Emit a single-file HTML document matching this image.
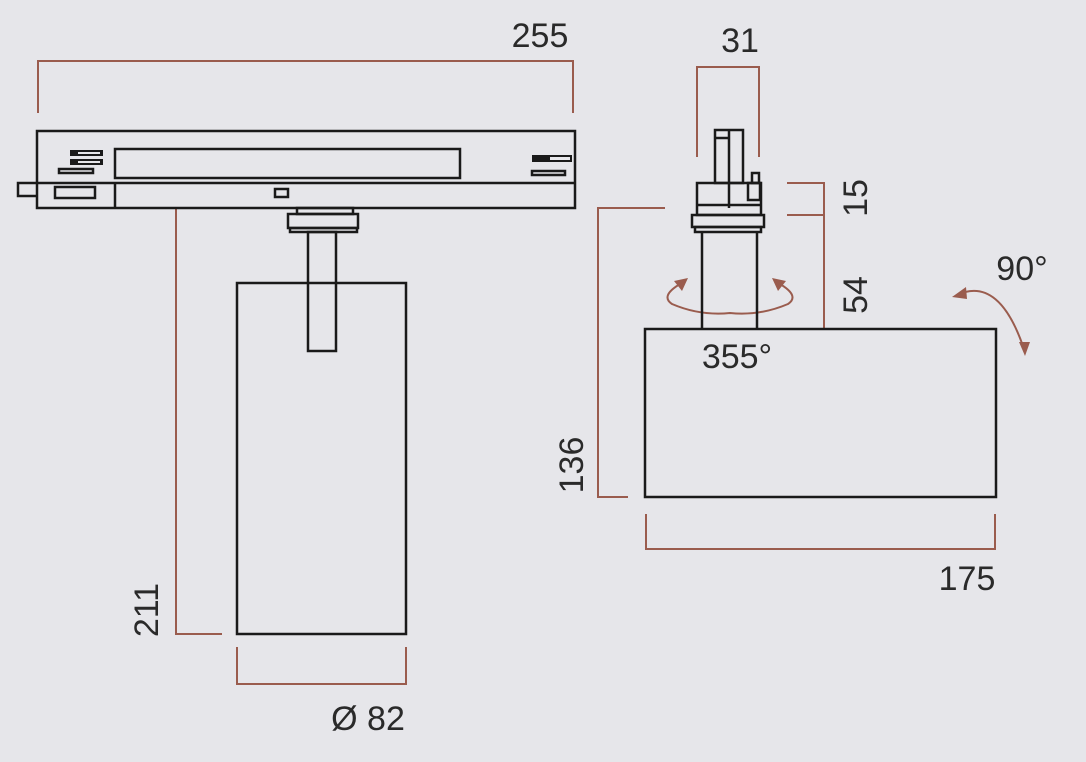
<!DOCTYPE html>
<html><head><style>body{margin:0;background:#e6e6ea}svg{display:block}text{font-family:"Liberation Sans",sans-serif;fill:#2a2a2a;font-size:34px}</style></head>
<body>
<svg width="1086" height="762" viewBox="0 0 1086 762">
<rect width="1086" height="762" fill="#e6e6ea"/>
<g fill="none" stroke="#9a5c4e" stroke-width="2">
<path d="M38 113V61H573V113"/>
<path d="M176 208V634H222"/>
<path d="M237 647V684H406V647"/>
<path d="M697 157V67H759V157"/>
<path d="M787 183H824V329M787 215H824"/>
<path d="M665 208H598V497H628"/>
<path d="M646 514V549H995V514"/>
<path d="M957 295Q1000 275 1025 352"/>
<path d="M680 284Q660 296 672 304Q700 316 730 313Q760 316 788 304Q800 296 780 284"/>
</g>
<g fill="#9a5c4e">
<path d="M952 297L966 287L967 299Z"/>
<path d="M1025 356L1019 342L1030 342Z"/>
<path d="M688 278L674 281L682 291Z"/>
<path d="M772 278L786 281L778 291Z"/>
</g>
<g fill="none" stroke="#1a1a1a" stroke-width="2.5">
<rect x="37" y="131" width="538" height="77"/>
<path d="M37 183H575M115 183V208"/>
<rect x="115" y="149" width="345" height="29"/>
<rect x="275" y="189" width="13" height="8"/>
<path d="M37 183H18V196H37"/>
<rect x="55" y="187" width="40" height="11"/>
<rect x="59" y="169" width="34" height="4"/>
<rect x="532" y="171" width="33" height="4"/>
<rect x="297" y="208" width="56" height="6"/>
<rect x="288" y="214" width="70" height="14"/>
<rect x="290" y="228" width="67" height="4"/>
<rect x="308" y="232" width="28" height="119"/>
<rect x="237" y="283" width="169" height="351"/>
<rect x="715" y="130" width="28" height="53"/>
<path d="M729 130V208M715 138H729"/>
<rect x="697" y="183" width="64" height="32"/>
<path d="M697 205H761"/>
<rect x="748" y="183" width="12" height="17"/>
<rect x="752" y="173" width="7" height="10"/>
<rect x="692" y="215" width="72" height="12"/>
<rect x="695" y="227" width="66" height="5"/>
<path d="M702 232V329M757 232V329"/>
<rect x="645" y="329" width="351" height="168"/>
</g>
<g fill="#1a1a1a">
<rect x="70" y="150" width="33" height="6"/>
<rect x="70" y="159" width="33" height="6"/>
<rect x="532" y="155" width="40" height="7"/>
</g>
<g fill="#e6e6ea"><rect x="78" y="152" width="22" height="2"/><rect x="78" y="161" width="22" height="2"/><rect x="550" y="157" width="20" height="3"/></g>
<text x="540" y="47" text-anchor="middle">255</text>
<text x="740" y="52" text-anchor="middle">31</text>
<text x="368" y="730" text-anchor="middle">Ø 82</text>
<text x="967" y="590" text-anchor="middle">175</text>
<text x="1022" y="280" text-anchor="middle">90°</text>
<text x="737" y="368" text-anchor="middle">355°</text>
<text transform="translate(158,610) rotate(-90)" text-anchor="middle">211</text>
<text transform="translate(583,465) rotate(-90)" text-anchor="middle">136</text>
<text transform="translate(867,198) rotate(-90)" text-anchor="middle">15</text>
<text transform="translate(867,295) rotate(-90)" text-anchor="middle">54</text>
</svg>
</body></html>
